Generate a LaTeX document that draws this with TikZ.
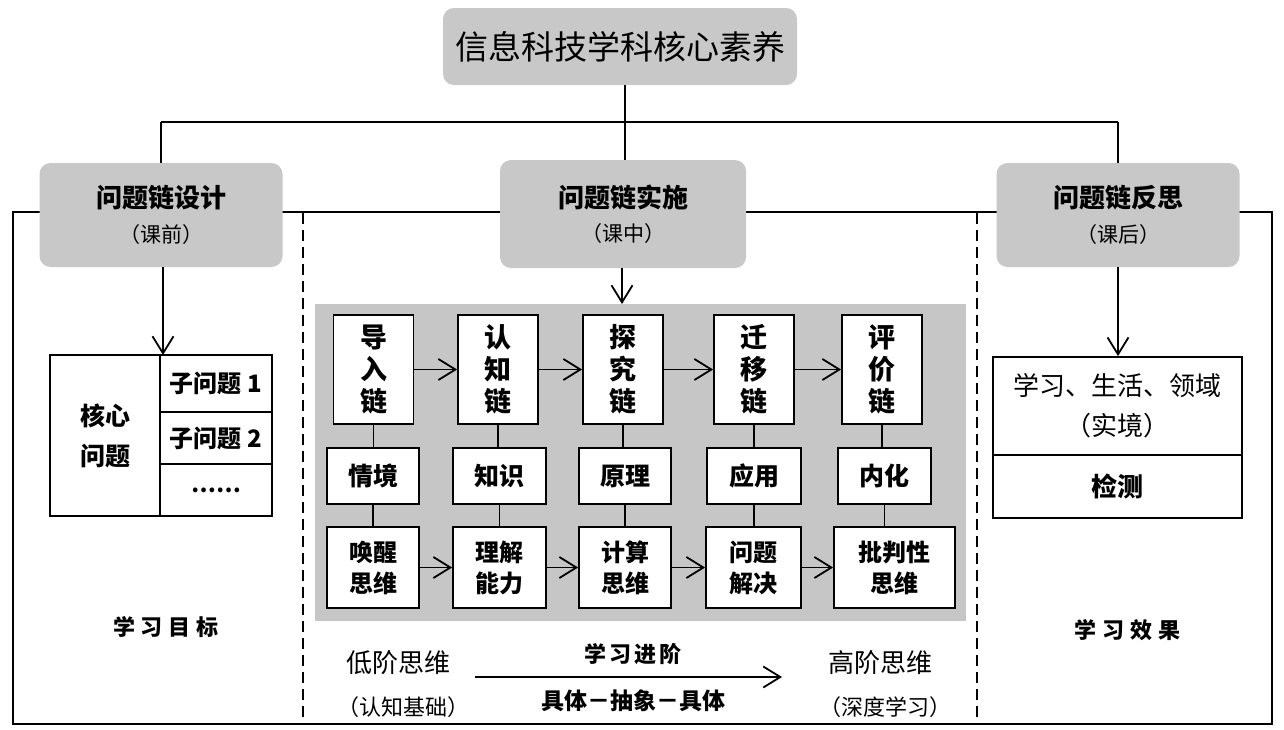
\documentclass[tikz,border=0pt]{standalone}
\usepackage{fontspec}
\setmainfont{Noto Sans CJK SC}
\usetikzlibrary{arrows.meta}
\definecolor{boxgray}{HTML}{C8C8C8}
\definecolor{panelgray}{HTML}{C6C6C6}
\begin{document}
\begin{tikzpicture}[x=1pt,y=-1pt,
  graybox/.style={fill=boxgray,draw=none,rounded corners=11pt,align=center,inner sep=0pt},
  wbox/.style={draw,fill=white,line width=1.8pt,align=center,inner sep=0pt},
  cellbox/.style={draw,line width=1.8pt,align=center,inner sep=0pt},
  conn/.style={line width=1.6pt},
  arr/.style={line width=1.6pt,-{Straight Barb[length=17pt,width=21pt,line width=1.8pt]}},
  chain/.style={wbox,minimum width=80pt,minimum height=109pt,font=\fontsize{27}{32}\selectfont\bfseries},
  mid/.style={wbox,minimum height=56pt,font=\fontsize{25}{28}\selectfont\bfseries},
  bot/.style={wbox,minimum height=81pt,font=\fontsize{24}{31}\selectfont\bfseries},
  plain/.style={inner sep=0pt,align=center}
]
\useasboundingbox (0,0) rectangle (1284,729);
\fill[white] (0,0) rectangle (1284,729);
% outer frame and dashed separators
\draw[line width=2.2pt] (13,212) rectangle (1272,724);
\draw[line width=1.8pt,dash pattern=on 11pt off 6pt] (303,213) -- (303,723);
\draw[line width=1.8pt,dash pattern=on 11pt off 6pt] (977,213) -- (977,723);
% top title
\node[graybox,minimum width=354pt,minimum height=77pt,font=\fontsize{33}{36}\selectfont] (top) at (620,46.5) {信息科技学科核心素养};
% phase heads
\node[graybox,minimum width=243pt,minimum height=104pt] (lh) at (161,215)
  {\fontsize{26}{26}\selectfont\bfseries 问题链设计\\[13pt]\fontsize{21}{21}\selectfont （课前）};
\node[graybox,minimum width=246pt,minimum height=108pt] (ch) at (623,214)
  {\fontsize{26}{26}\selectfont\bfseries 问题链实施\\[13pt]\fontsize{21}{21}\selectfont （课中）};
\node[graybox,minimum width=243pt,minimum height=104pt] (rh) at (1118,215)
  {\fontsize{26}{26}\selectfont\bfseries 问题链反思\\[13pt]\fontsize{21}{21}\selectfont （课后）};
% tree connectors
\coordinate (hc) at (625,122);
\draw[conn] (top.south -| hc) -- (hc);
\draw[conn] (lh.north |- hc) -- (rh.north |- hc);
\draw[conn] (lh.north |- hc) -- (lh.north);
\draw[conn] (rh.north |- hc) -- (rh.north);
\draw[conn] (hc) -- (hc |- ch.north);
% left: core problem box
\node[cellbox,minimum width=110pt,minimum height=161pt,font=\fontsize{25}{40}\selectfont\bfseries] (corel) at (105,435.5) {核心\\问题};
\node[cellbox,minimum width=112pt,minimum height=57pt,font=\fontsize{24}{26}\selectfont\bfseries] (sub1) at (216,383.5) {子问题 1};
\node[cellbox,minimum width=112pt,minimum height=52pt,font=\fontsize{24}{26}\selectfont\bfseries] (sub2) at (216,438) {子问题 2};
\node[cellbox,minimum width=112pt,minimum height=52pt,font=\fontsize{22}{26}\selectfont\bfseries] (sub3) at (216,490) {……};
\draw[arr] (lh.south -| 163,0) -- (163,355);
\node[plain,font=\fontsize{22}{24}\selectfont\bfseries] (goal) at (166,627) {学\kern6pt 习\kern6pt 目\kern6pt 标};
% center panel
\node[fill=panelgray,minimum width=651pt,minimum height=317pt,inner sep=0pt] (panel) at (640.5,462.5) {};
\draw[arr] (ch.south -| 622,0) -- (622,304);
% chain row
\node[chain] (t1) at (373.5,369.5) {导\\入\\链};
\node[chain] (t2) at (498,369.5) {认\\知\\链};
\node[chain] (t3) at (623,369.5) {探\\究\\链};
\node[chain] (t4) at (754,369.5) {迁\\移\\链};
\node[chain] (t5) at (882,369.5) {评\\价\\链};
\foreach \a/\b in {t1/t2,t2/t3,t3/t4,t4/t5} \draw[arr] (\a.east) -- (\b.west);
% middle row
\node[mid,minimum width=92pt] (m1) at (373,476) {情境};
\node[mid,minimum width=93pt] (m2) at (499.5,476) {知识};
\node[mid,minimum width=92pt] (m3) at (625,476) {原理};
\node[mid,minimum width=94pt] (m4) at (754,476) {应用};
\node[mid,minimum width=93pt] (m5) at (884.5,476) {内化};
% bottom row
\node[bot,minimum width=92pt] (b1) at (373,567.5) {唤醒\\思维};
\node[bot,minimum width=93pt] (b2) at (499.5,567.5) {理解\\能力};
\node[bot,minimum width=92pt] (b3) at (625,567.5) {计算\\思维};
\node[bot,minimum width=95pt] (b4) at (753.5,567.5) {问题\\解决};
\node[bot,minimum width=121pt] (b5) at (894.5,567.5) {批判性\\思维};
\foreach \a/\b in {b1/b2,b2/b3,b3/b4,b4/b5} \draw[arr] (\a.east) -- (\b.west);
% vertical links
\foreach \i in {1,...,5} {
  \draw[conn] (t\i.south) -- (t\i.south |- m\i.north);
  \draw[conn] (m\i.south) -- (m\i.south |- b\i.north);
}
% progression
\node[plain,font=\fontsize{26}{28}\selectfont] (low) at (398,663) {低阶思维};
\node[plain,font=\fontsize{22}{24}\selectfont] (lowb) at (403,707) {（认知基础）};
\node[plain,font=\fontsize{26}{28}\selectfont] (high) at (880,663) {高阶思维};
\node[plain,font=\fontsize{22}{24}\selectfont] (highb) at (885,707) {（深度学习）};
\coordinate (pa) at (475,677);
\coordinate (pb) at (782,677);
\draw[arr] (pa) -- (pb);
\node[plain,font=\fontsize{22}{24}\selectfont\bfseries] (prog) at (633,654) {学\kern3pt 习\kern3pt 进\kern3pt 阶};
\node[plain,font=\fontsize{23}{24}\selectfont\bfseries] (cac) at (633,701) {具体－抽象－具体};
% right side
\node[cellbox,minimum width=249pt,minimum height=98pt,font=\fontsize{26}{40}\selectfont] (r1) at (1117.5,406) {学习、生活、领域\\（实境）};
\node[cellbox,minimum width=249pt,minimum height=63pt,font=\fontsize{26}{28}\selectfont\bfseries] (r2) at (1117.5,486.5) {检测};
\draw[arr] (rh.south) -- (rh.south |- r1.north);
\node[plain,font=\fontsize{22}{24}\selectfont\bfseries] (eff) at (1127,630) {学\kern6pt 习\kern6pt 效\kern6pt 果};
\end{tikzpicture}
\end{document}
